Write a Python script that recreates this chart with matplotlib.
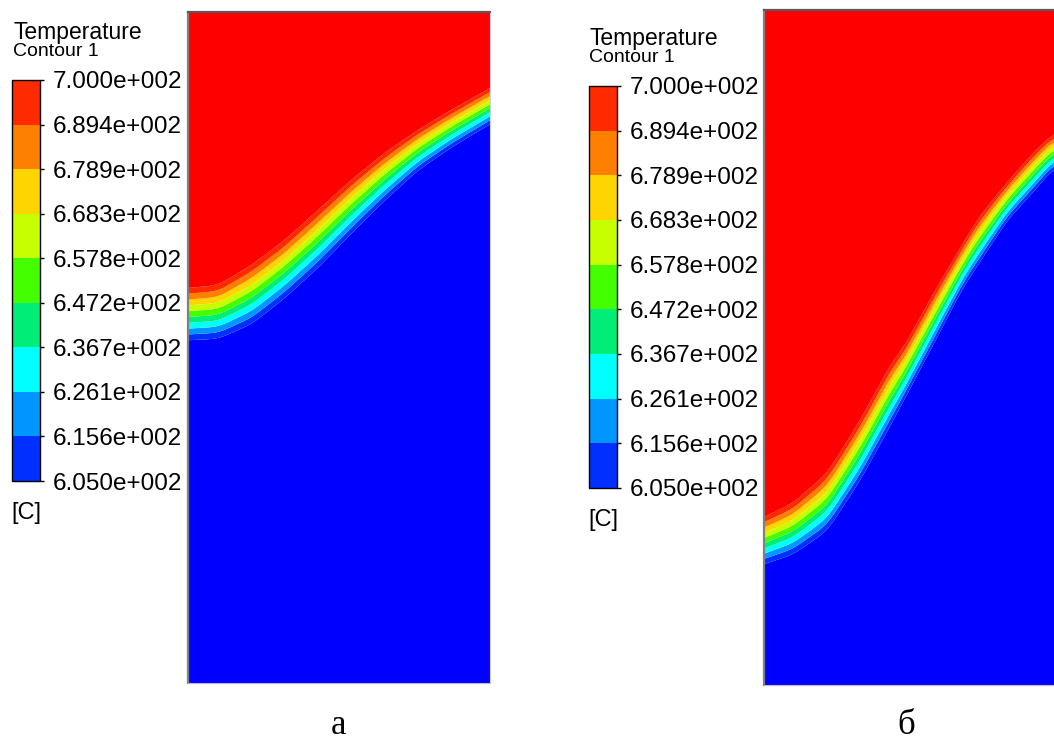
"""Temperature contours (two cases) in ANSYS style, a / б."""

import matplotlib

matplotlib.use("Agg")

import matplotlib.pyplot as plt
import numpy as np
from matplotlib.cm import ScalarMappable
from matplotlib.colors import BoundaryNorm, ListedColormap
from matplotlib.ticker import FuncFormatter

FIG_W, FIG_H = 1054, 745

T_MIN = 605.0
T_MAX = 700.0
N_BANDS = 9

# band colours, coldest first
BAND_COLORS = [
    "#0030ff", "#0096ff", "#00ffff", "#00ee77", "#44ff00",
    "#c8ff00", "#ffd500", "#ff7f00", "#ff2a00",
]
UNDER_COLOR = "#0000ff"
OVER_COLOR = "#ff0000"

# isotherm positions, domain width = 1
# a
A_X = [0.0, 0.10, 0.21, 0.32, 0.43, 0.54, 0.65, 0.76, 0.87, 1.0]
A_Y_HOT = [1.308, 1.318, 1.384, 1.467, 1.566, 1.666, 1.755, 1.831, 1.897, 1.970]
A_Y_COLD = [1.135, 1.140, 1.188, 1.274, 1.374, 1.487, 1.596, 1.696, 1.772, 1.850]
A_HEIGHT = 2.222

# б
B_X_HOT = [0.0, 0.096, 0.209, 0.318, 0.427, 0.457, 0.573, 0.705, 0.791, 0.891, 0.960]
B_Y_HOT = [0.556, 0.603, 0.702, 0.877, 1.076, 1.109, 1.318, 1.540, 1.649, 1.762, 1.828]
B_X_COLD = [0.0, 0.096, 0.209, 0.318, 0.427, 0.550, 0.659, 0.805, 0.904, 0.960]
B_Y_COLD = [0.400, 0.432, 0.510, 0.676, 0.874, 1.106, 1.315, 1.537, 1.646, 1.712]
B_HEIGHT = 2.235

PANEL_LABELS = ["а", "б"]
UNIT_LABEL = "[C]"
TITLE = "Temperature"
SUBTITLE = "Contour 1"


def px_rect(left, top, width, height):
    return [left / FIG_W, 1 - (top + height) / FIG_H, width / FIG_W, height / FIG_H]


def smooth_curve(gx, xs, ys, win=61):
    y = np.interp(gx, xs, ys)
    half = win // 2
    # odd reflection at both ends keeps the end slope
    left = 2 * y[0] - y[half:0:-1]
    right = 2 * y[-1] - y[-2:-half - 2:-1]
    padded = np.concatenate([left, y, right])
    kernel = np.hanning(win)
    kernel /= kernel.sum()
    return np.convolve(padded, kernel, mode="same")[half:-half]


def temperature_field(x_hot, y_hot, x_cold, y_cold, height):
    gx = np.linspace(0, 1, 600)
    gy = np.linspace(0, height, 1400)
    hot = smooth_curve(gx, x_hot, y_hot)
    cold = smooth_curve(gx, x_cold, y_cold)
    X, Y = np.meshgrid(gx, gy)
    frac = (Y - cold[None, :]) / (hot - cold)[None, :]
    T = T_MIN + (T_MAX - T_MIN) * frac
    return X, Y, np.clip(T, T_MIN - 5, T_MAX + 5)


def mantissa_label(v, _pos):
    return f"{v / 100:.3f}e+002"


levels = np.linspace(T_MIN, T_MAX, N_BANDS + 1)
field_cmap = ListedColormap(BAND_COLORS).with_extremes(under=UNDER_COLOR, over=OVER_COLOR)
bar_cmap = ListedColormap(BAND_COLORS)

fig = plt.figure(figsize=(FIG_W / 100, FIG_H / 100), dpi=100)

panels = [
    dict(ax=(188, 12, 302, 671), cbar=(12, 80, 28, 401), title=(13, 33), sub=(13, 52),
         unit=(11, 513), label=(338, 726), height=A_HEIGHT,
         data=(A_X, A_Y_HOT, A_X, A_Y_COLD)),
    dict(ax=(764, 10, 302, 675), cbar=(589, 86, 28, 402), title=(589, 38), sub=(589, 58),
         unit=(588, 520), label=(906, 726), height=B_HEIGHT,
         data=(B_X_HOT, B_Y_HOT, B_X_COLD, B_Y_COLD)),
]

sans = ["Liberation Sans", "DejaVu Sans"]
serif = ["Liberation Serif", "DejaVu Serif"]

for panel, letter in zip(panels, PANEL_LABELS):
    ax = fig.add_axes(px_rect(*panel["ax"]))
    X, Y, T = temperature_field(*panel["data"], panel["height"])
    ax.contourf(X, Y, T, levels=levels, cmap=field_cmap, extend="both", antialiased=True)
    ax.set_xlim(0, 1)
    ax.set_ylim(0, panel["height"])
    ax.set_xticks([])
    ax.set_yticks([])
    ax.spines["left"].set_color("#808080")
    ax.spines["left"].set_linewidth(1.6)
    ax.spines["top"].set_color("#5a5a5a")
    ax.spines["top"].set_linewidth(1.6)
    ax.spines["right"].set_color("#d0d0e0")
    ax.spines["bottom"].set_color("#b8b8e0")

    cax = fig.add_axes(px_rect(*panel["cbar"]))
    sm = ScalarMappable(norm=BoundaryNorm(levels, N_BANDS), cmap=bar_cmap)
    cb = fig.colorbar(sm, cax=cax, ticks=levels)
    cb.outline.set_linewidth(1.0)
    cb.outline.set_edgecolor("black")
    cax.yaxis.set_major_formatter(FuncFormatter(mantissa_label))
    cax.tick_params(axis="y", direction="out", length=3, width=1, pad=6, labelsize=17.5)
    for t in cax.get_yticklabels():
        t.set_family(sans)

    tx, ty = panel["title"]
    fig.text(tx / FIG_W, 1 - ty / FIG_H, TITLE, family=sans, fontsize=16.5, va="center", ha="left")
    sx, sy = panel["sub"]
    fig.text(sx / FIG_W, 1 - sy / FIG_H, SUBTITLE, family=sans, fontsize=14, va="center", ha="left")
    ux, uy = panel["unit"]
    fig.text(ux / FIG_W, 1 - uy / FIG_H, UNIT_LABEL, family=sans, fontsize=17, va="center", ha="left")
    lx, ly = panel["label"]
    fig.text(lx / FIG_W, 1 - ly / FIG_H, letter, family=serif, fontsize=25, va="center", ha="center")

fig.savefig("out.png", dpi=100)
plt.close(fig)
